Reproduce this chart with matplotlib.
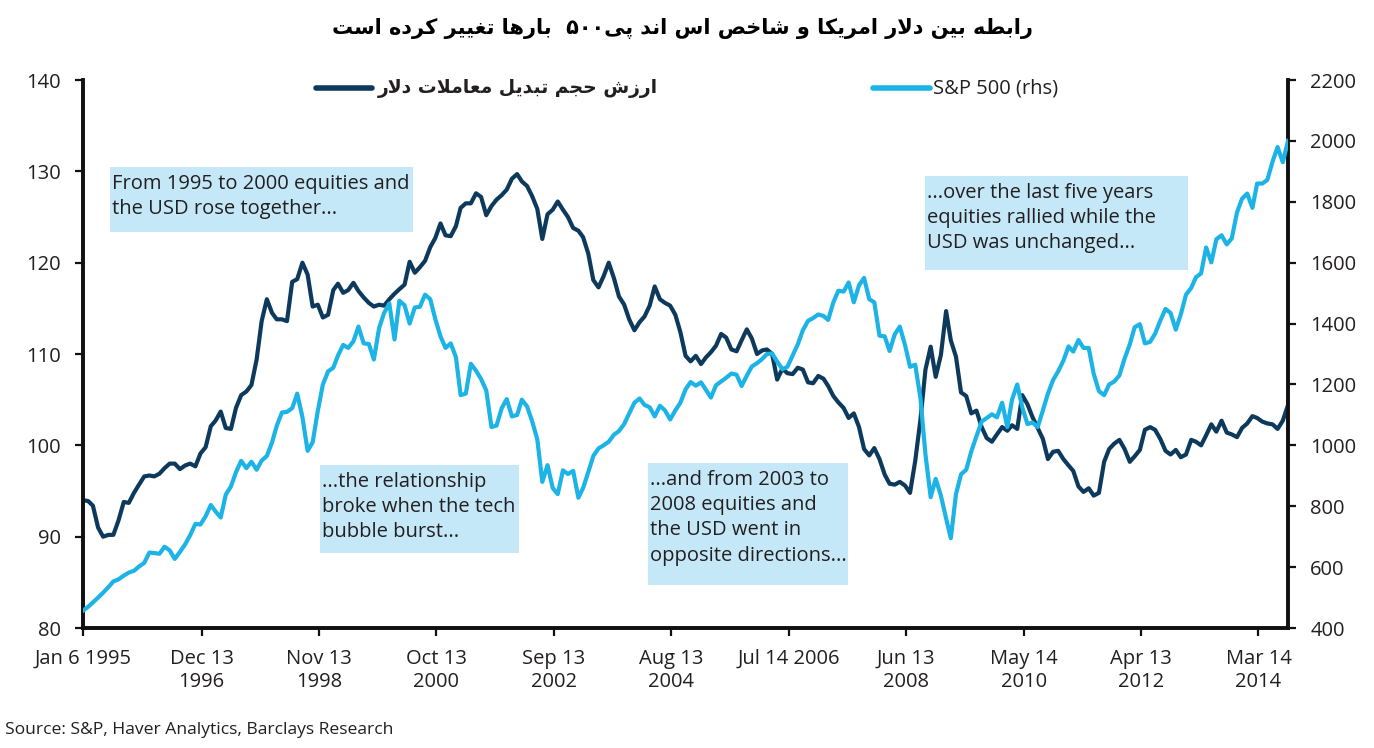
import re
import numpy as np
import pandas as pd
import matplotlib
matplotlib.use('Agg')
import matplotlib.pyplot as plt
import matplotlib.patches as mpatches

# Trade-weighted USD index (lhs), monthly readings from Jan 1995
usd_index = [
    94.0, 93.9, 93.4, 91.0, 90.0, 90.2, 90.2, 91.8, 93.8, 93.7, 94.8, 95.7,
    96.6, 96.7, 96.6, 96.9, 97.5, 98.0, 98.0, 97.4, 97.8, 98.0, 97.7, 99.1,
    99.8, 102.1, 102.7, 103.7, 101.9, 101.8, 104.1, 105.5, 105.9, 106.6, 109.4, 113.6,
    116.0, 114.5, 113.8, 113.8, 113.6, 117.9, 118.2, 120.0, 118.7, 115.2, 115.4, 114.0,
    114.3, 117.0, 117.7, 116.7, 117.0, 117.8, 116.9, 116.2, 115.6, 115.2, 115.4, 115.3,
    116.0, 116.6, 117.1, 117.6, 120.1, 118.9, 119.5, 120.2, 121.7, 122.7, 124.3, 123.0,
    122.9, 124.0, 126.0, 126.5, 126.5, 127.6, 127.2, 125.2, 126.2, 126.9, 127.4, 128.0,
    129.2, 129.7, 128.9, 128.4, 127.3, 125.9, 122.6, 125.3, 125.8, 126.7, 125.8, 125.0,
    123.8, 123.5, 122.8, 121.0, 118.1, 117.3, 118.5, 120.0, 118.3, 116.3, 115.4, 113.8,
    112.6, 113.5, 114.1, 115.3, 117.4, 116.0, 115.6, 115.3, 114.3, 112.4, 109.8, 109.2,
    109.8, 108.9, 109.6, 110.2, 110.9, 112.2, 111.8, 110.5, 110.3, 111.5, 112.7, 111.7,
    110.0, 110.4, 110.5, 110.0, 107.2, 108.4, 107.9, 107.8, 108.5, 108.3, 106.9, 106.8,
    107.6, 107.3, 106.5, 105.4, 104.7, 104.1, 103.0, 103.5, 102.0, 99.6, 98.9, 99.7,
    98.5, 96.8, 95.8, 95.7, 96.0, 95.6, 94.8, 98.3, 102.8, 108.3, 110.8, 107.5,
    109.9, 114.7, 111.5, 109.7, 105.8, 105.4, 103.5, 103.8, 102.0, 100.8, 100.4, 101.2,
    102.0, 101.6, 102.2, 101.8, 105.5, 104.5, 103.1, 101.9, 100.7, 98.5, 99.3, 99.4,
    98.5, 97.8, 97.2, 95.5, 94.9, 95.3, 94.5, 94.8, 98.2, 99.6, 100.2, 100.6,
    99.6, 98.2, 98.8, 99.5, 101.7, 102.0, 101.7, 100.7, 99.4, 99.0, 99.5, 98.7,
    99.0, 100.6, 100.4, 100.0, 101.1, 102.3, 101.5, 102.7, 101.4, 101.2, 100.9, 101.9,
    102.4, 103.2, 103.0, 102.6, 102.4, 102.3, 101.8, 102.7, 104.4,
]

# S&P 500 (rhs), same months
spx_index = [
    457, 470, 484, 500, 516, 534, 553, 560, 572, 582, 588, 602,
    614, 648, 646, 644, 667, 655, 627, 650, 675, 705, 742, 740,
    767, 804, 783, 763, 838, 865, 912, 949, 925, 946, 920, 950,
    965, 1010, 1064, 1108, 1110, 1122, 1170, 1093, 982, 1010, 1114, 1200,
    1243, 1255, 1295, 1330, 1320, 1342, 1390, 1335, 1333, 1282, 1385, 1435,
    1466, 1348, 1475, 1460, 1400, 1453, 1455, 1495, 1480, 1415, 1358, 1320,
    1335, 1290, 1165, 1170, 1268, 1245, 1218, 1180, 1060, 1065, 1122, 1152,
    1095, 1100, 1150, 1128, 1080, 1020, 880, 935, 860, 840, 918, 906,
    916, 828, 860, 912, 965, 990, 1000, 1012, 1035, 1047, 1070, 1105,
    1140, 1154, 1133, 1125, 1095, 1130, 1115, 1085, 1115, 1140, 1184, 1208,
    1196, 1207, 1183, 1157, 1197, 1210, 1222, 1236, 1232, 1195, 1229, 1259,
    1270, 1284, 1300, 1302, 1275, 1250, 1258, 1295, 1332, 1378, 1409, 1418,
    1430, 1425, 1412, 1470, 1508, 1505, 1535, 1470, 1526, 1550, 1480, 1470,
    1360, 1358, 1310, 1365, 1390, 1330, 1258, 1265, 1155, 970, 830, 890,
    835, 760, 695, 840, 905, 920, 980, 1030, 1078, 1090, 1102, 1092,
    1140, 1060, 1150, 1200, 1125, 1070, 1075, 1060, 1115, 1170, 1215, 1243,
    1278, 1325, 1308, 1346, 1320, 1320, 1235, 1178, 1165, 1200, 1210, 1230,
    1285, 1332, 1388, 1398, 1335, 1340, 1367, 1410, 1448, 1435, 1380, 1430,
    1495, 1517, 1552, 1565, 1650, 1601, 1677, 1690, 1660, 1680, 1765, 1810,
    1827, 1780, 1860, 1860, 1872, 1932, 1980, 1930, 2000,
]

month_dates = pd.date_range('1995-01-06', periods=len(usd_index),
                            freq=pd.DateOffset(months=1))

tick_dates = pd.to_datetime(['1995-01-06', '1996-12-13', '1998-11-13', '2000-10-13',
                             '2002-09-13', '2004-08-13', '2006-07-14', '2008-06-13',
                             '2010-05-14', '2012-04-13', '2014-03-14'])
tick_labels = ['Jan 6 1995', 'Dec 13\n1996', 'Nov 13\n1998', 'Oct 13\n2000',
               'Sep 13\n2002', 'Aug 13\n2004', 'Jul 14 2006', 'Jun 13\n2008',
               'May 14\n2010', 'Apr 13\n2012', 'Mar 14\n2014']

title_fa = 'رابطه بین دلار امریکا و شاخص اس اند پی۵۰۰  بارها تغییر کرده است'
usd_label_fa = 'ارزش حجم تبدیل معاملات دلار'
spx_label = 'S&P 500 (rhs)'
source_text = 'Source: S&P, Haver Analytics, Barclays Research'

notes = [
    'From 1995 to 2000 equities and\nthe USD rose together...',
    '...the relationship\nbroke when the tech\nbubble burst...',
    '...and from 2003 to\n2008 equities and\nthe USD went in\nopposite directions...',
    '...over the last five years\nequities rallied while the\nUSD was unchanged...',
]
# box extents in axes fraction: x0, x1, y_bottom, y_top
note_boxes = [
    (0.0224, 0.2739, 0.7226, 0.8412),
    (0.1967, 0.3618, 0.1369, 0.2974),
    (0.4689, 0.6349, 0.0785, 0.3011),
    (0.6988, 0.9170, 0.6533, 0.8248),
]

NAVY = '#0d3a5c'
BLUE = '#1cb3e6'
BOX = '#c5e8f8'
INK = '#231f20'

# --- minimal Persian shaping (matplotlib does no joining / RTL) ---
AR = {
    'ا': 'FE8D FE8E', 'آ': 'FE81 FE82', 'د': 'FEA9 FEAA', 'ذ': 'FEAB FEAC',
    'ر': 'FEAD FEAE', 'ز': 'FEAF FEB0', 'ژ': 'FB8A FB8B', 'و': 'FEED FEEE',
    'ب': 'FE8F FE90 FE91 FE92', 'پ': 'FB56 FB57 FB58 FB59', 'ت': 'FE95 FE96 FE97 FE98',
    'ج': 'FE9D FE9E FE9F FEA0', 'ح': 'FEA1 FEA2 FEA3 FEA4', 'خ': 'FEA5 FEA6 FEA7 FEA8',
    'س': 'FEB1 FEB2 FEB3 FEB4', 'ش': 'FEB5 FEB6 FEB7 FEB8', 'ص': 'FEB9 FEBA FEBB FEBC',
    'ط': 'FEC1 FEC2 FEC3 FEC4', 'ع': 'FEC9 FECA FECB FECC', 'غ': 'FECD FECE FECF FED0',
    'ف': 'FED1 FED2 FED3 FED4', 'ق': 'FED5 FED6 FED7 FED8', 'ک': 'FB8E FB8F FB90 FB91',
    'گ': 'FB92 FB93 FB94 FB95', 'ل': 'FEDD FEDE FEDF FEE0', 'م': 'FEE1 FEE2 FEE3 FEE4',
    'ن': 'FEE5 FEE6 FEE7 FEE8', 'ه': 'FEE9 FEEA FEEB FEEC', 'ی': 'FBFC FBFD FBFE FBFF',
}
AR = {k: [chr(int(h, 16)) for h in v.split()] for k, v in AR.items()}


def shape_fa(text):
    chars = list(text)
    out = []
    i = 0
    while i < len(chars):
        c = chars[i]
        if c not in AR:
            out.append(c)
            i += 1
            continue
        prev = chars[i - 1] if i > 0 else ''
        joins_prev = prev in AR and len(AR[prev]) == 4
        if c == 'ل' and i + 1 < len(chars) and chars[i + 1] == 'ا':
            out.append('\uFEFC' if joins_prev else '\uFEFB')
            i += 2
            continue
        nxt = chars[i + 1] if i + 1 < len(chars) else ''
        joins_next = len(AR[c]) == 4 and nxt in AR
        f = AR[c]
        if joins_prev and joins_next:
            out.append(f[3])
        elif joins_prev:
            out.append(f[1])
        elif joins_next:
            out.append(f[2])
        else:
            out.append(f[0])
        i += 1
    vis = ''.join(out)[::-1]
    return re.sub(r'[0-9\u06F0-\u06F9]+', lambda m: m.group(0)[::-1], vis)


plt.rcParams['font.family'] = ['Open Sans', 'DejaVu Sans']

fig = plt.figure(figsize=(13.74, 7.48), dpi=100)
ax = fig.add_axes([0.0604, 0.1604, 0.877, 0.7326])
ax2 = ax.twinx()

ax.plot(month_dates, usd_index, color=NAVY, lw=3.0, solid_joinstyle='round', zorder=3)
ax2.plot(month_dates, spx_index, color=BLUE, lw=3.0, solid_joinstyle='round', zorder=3)

ax.set_xlim(month_dates[0], month_dates[-1])
ax.set_ylim(80, 140)
ax2.set_ylim(400, 2200)
ax.set_yticks(np.arange(80, 141, 10))
ax2.set_yticks(np.arange(400, 2201, 200))
ax.set_xticks(tick_dates)
ax.set_xticklabels(tick_labels)

for a in (ax, ax2):
    a.spines['top'].set_visible(False)
    for s in ('left', 'right', 'bottom'):
        a.spines[s].set_linewidth(2.6)
        a.spines[s].set_color('#111111')
    a.tick_params(direction='out', length=6, width=1.6, labelsize=14.5,
                  labelcolor=INK, color='#111111', pad=10)
ax.tick_params(axis='x', pad=9)
ax.patch.set_visible(False)

for (x0, x1, y0, y1), txt in zip(note_boxes, notes):
    ax.add_patch(mpatches.Rectangle((x0, y0), x1 - x0, y1 - y0, transform=ax.transAxes,
                                    facecolor=BOX, edgecolor='none', zorder=1))
    ax.text(x0 + 0.002, y1 - 0.012, txt, transform=ax.transAxes, ha='left', va='top',
            fontsize=14.5, color=INK, linespacing=1.36, zorder=2)

# legend keys
ax.plot([0.1934, 0.2398], [0.9854, 0.9854], transform=ax.transAxes, color=NAVY,
        lw=4, solid_capstyle='round', clip_on=False)
ax.text(0.2448, 0.9854, shape_fa(usd_label_fa), transform=ax.transAxes, ha='left',
        va='center', fontsize=13.5, fontweight='bold', family='DejaVu Sans', color=INK)
ax.plot([0.6556, 0.7029], [0.9854, 0.9854], transform=ax.transAxes, color=BLUE,
        lw=4, solid_capstyle='round', clip_on=False)
ax.text(0.7054, 0.9854, spx_label, transform=ax.transAxes, ha='left', va='center',
        fontsize=14.5, color=INK)

fig.text(0.497, 0.962, shape_fa(title_fa), ha='center', va='center', fontsize=15,
         fontweight='bold', family='DejaVu Sans', color='black')
fig.text(0.004, 0.024, source_text, ha='left', va='center', fontsize=12.6, color=INK)

fig.savefig('out.png', dpi=100)
